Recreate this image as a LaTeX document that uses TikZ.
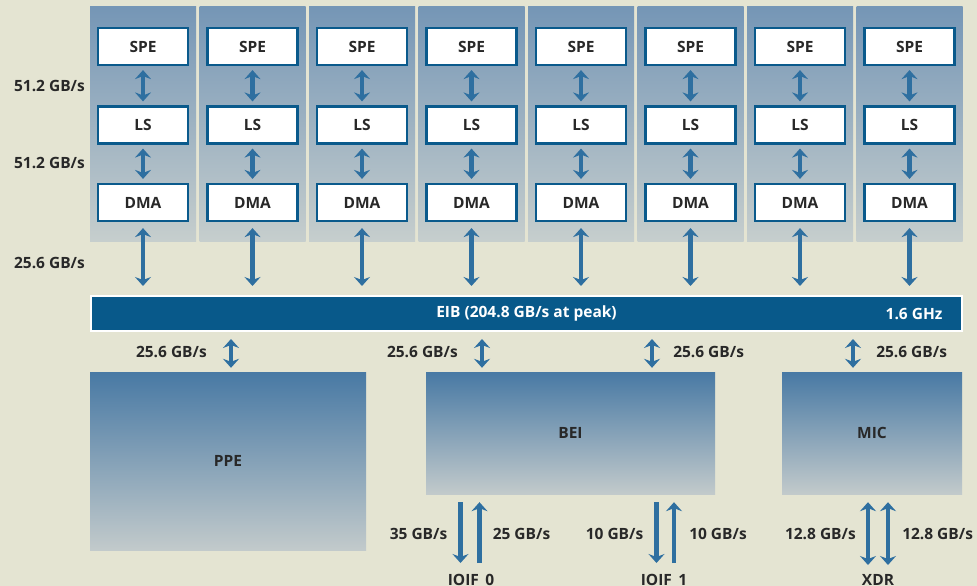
\documentclass[tikz,border=0pt]{standalone}
\usepackage{fontspec}
\setmainfont{Open Sans}
\usepackage{xcolor}
\usetikzlibrary{arrows.meta}

\definecolor{paper}{RGB}{228,228,210}
\definecolor{coltop}{RGB}{117,150,182}
\definecolor{colbot}{RGB}{198,206,205}
\definecolor{boxtop}{RGB}{72,121,164}
\definecolor{boxbot}{RGB}{194,202,203}
\definecolor{boxblue}{RGB}{10,90,140}
\definecolor{eibblue}{RGB}{8,89,138}
\definecolor{arrowblue}{RGB}{46,111,160}
\definecolor{ink}{RGB}{40,40,40}

\tikzset{
  unit/.style={draw=boxblue, line width=2.2pt, fill=white, minimum width=90pt, minimum height=37pt, inner sep=0pt},
  chip/.style={top color=boxtop, bottom color=boxbot, inner sep=0pt},
  link/.style={draw=arrowblue, line width=4.5pt, {Stealth[length=9pt,width=16pt,inset=3pt]}-{Stealth[length=9pt,width=16pt,inset=3pt]}},
  onelink/.style={draw=arrowblue, line width=4.5pt, -{Stealth[length=9pt,width=16pt,inset=3pt]}},
  rate/.style={inner sep=1pt}
}

\begin{document}
\begin{tikzpicture}[x=1pt,y=-1pt, every node/.style={font=\bfseries\fontsize{15.5}{18}\selectfont, text=ink}]
\fill[paper] (0,0) rectangle (977,586);
\useasboundingbox (0,0) rectangle (977,586);

% eight SPE columns
\foreach \i in {0,...,7} {
  \pgfmathsetmacro\cx{143+\i*109.5}
  \shade[top color=coltop, bottom color=colbot] (\cx-53,7) rectangle (\cx+53,241);
  \node[unit] (spe\i) at (\cx,46.5) {SPE};
  \node[unit] (ls\i) at (\cx,125) {LS};
  \node[unit] (dma\i) at (\cx,202.5) {DMA};
  \draw[link, shorten <=4pt, shorten >=4pt] (spe\i) -- (ls\i);
  \draw[link, shorten <=4pt, shorten >=4pt] (ls\i) -- (dma\i);
}

% bus
\node[draw=white, line width=2pt, fill=eibblue, minimum width=871pt, minimum height=35pt, text=white] (eib) at (526.5,313.5) {EIB (204.8 GB/s at peak)};
\node[text=white, anchor=east] (ghz) at (946,314) {1.6 GHz};

\foreach \i in {0,...,7}
  \draw[link, shorten <=6pt, shorten >=9pt] (dma\i) -- (dma\i |- eib.north);

\node[rate, anchor=east] (r1) at (86,86) {51.2 GB/s};
\node[rate, anchor=east] (r2) at (86,163) {51.2 GB/s};
\node[rate, anchor=east] (r3) at (86,263) {25.6 GB/s};

% lower units
\node[chip, minimum width=276pt, minimum height=178pt] (ppe) at (228,461) {PPE};
\node[chip, minimum width=289pt, minimum height=122pt] (bei) at (570.5,433) {BEI};
\node[chip, minimum width=180pt, minimum height=122pt] (mic) at (872,433) {MIC};

\draw[link, shorten <=7pt, shorten >=4pt] ([xshift=3pt]ppe.north |- eib.south) -- ([xshift=3pt]ppe.north)
  node[rate, midway, left=21pt] {25.6 GB/s};
\draw[link, shorten <=7pt, shorten >=4pt] ([xshift=-88.5pt]bei.north |- eib.south) -- ([xshift=-88.5pt]bei.north)
  node[rate, midway, left=21pt] {25.6 GB/s};
\draw[link, shorten <=7pt, shorten >=4pt] ([xshift=81.5pt]bei.north |- eib.south) -- ([xshift=81.5pt]bei.north)
  node[rate, midway, right=18pt] {25.6 GB/s};
\draw[link, shorten <=7pt, shorten >=4pt] ([xshift=-19pt]mic.north |- eib.south) -- ([xshift=-19pt]mic.north)
  node[rate, midway, right=20pt] {25.6 GB/s};

% off-chip ports
\node[anchor=north, inner sep=0pt] (io0) at (471,574) {IOIF\_0};
\node[anchor=north, inner sep=0pt] (io1) at (664,574) {IOIF\_1};
\node[anchor=north, inner sep=0pt] (xdr) at (878,574) {XDR};

\draw[onelink, shorten <=8pt, shorten >=11pt] ([xshift=-10.5pt]io0.north |- bei.south) -- ([xshift=-10.5pt]io0.north)
  node[rate, midway, left=10pt] {35 GB/s};
\draw[onelink, shorten <=11pt, shorten >=8pt] ([xshift=8.5pt]io0.north) -- ([xshift=8.5pt]io0.north |- bei.south)
  node[rate, midway, right=10pt] {25 GB/s};

\draw[onelink, shorten <=8pt, shorten >=11pt] ([xshift=-7.5pt]io1.north |- bei.south) -- ([xshift=-7.5pt]io1.north)
  node[rate, midway, left=10pt] {10 GB/s};
\draw[onelink, shorten <=11pt, shorten >=8pt] ([xshift=10pt]io1.north) -- ([xshift=10pt]io1.north |- bei.south)
  node[rate, midway, right=12pt] {10 GB/s};

\draw[link, shorten <=8pt, shorten >=9pt] ([xshift=-10pt]xdr.north |- mic.south) -- ([xshift=-10pt]xdr.north)
  node[rate, midway, left=9pt] {12.8 GB/s};
\draw[link, shorten <=8pt, shorten >=9pt] ([xshift=10pt]xdr.north |- mic.south) -- ([xshift=10pt]xdr.north)
  node[rate, midway, right=11pt] {12.8 GB/s};
\end{tikzpicture}
\end{document}
